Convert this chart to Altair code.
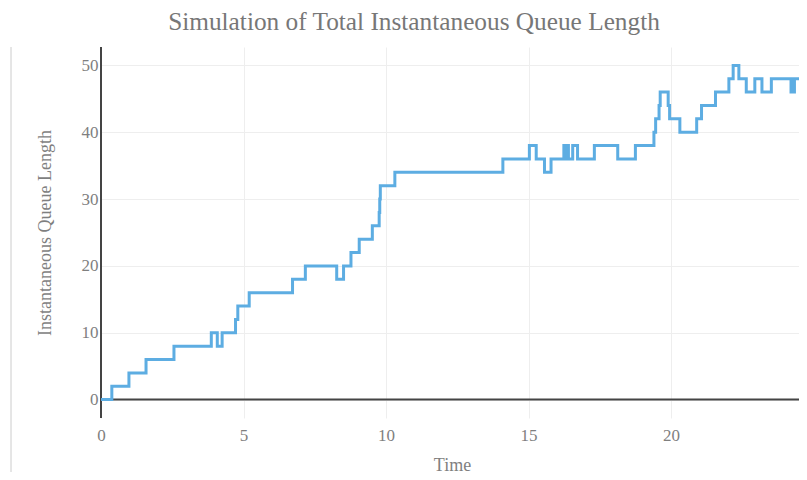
import altair as alt
import pandas as pd

# Step data (time of change, new queue length)
time = [0.0, 0.38, 0.98, 1.58, 2.56, 3.87, 4.08, 4.25, 4.72, 4.80, 5.20,
        6.72, 7.17, 8.27, 8.51, 8.77, 9.06, 9.52, 9.76, 9.78, 9.80, 10.31,
        14.10, 15.03, 15.27, 15.56, 15.79, 16.24, 16.30, 16.34, 16.40, 16.55,
        16.72, 17.31, 18.13, 18.75, 19.40, 19.46, 19.58, 19.62, 19.90, 19.95,
        20.31, 20.90, 21.07, 21.56, 22.03, 22.18, 22.38, 22.64, 22.94, 23.19,
        23.52, 24.21, 24.25, 24.29, 24.33, 24.56]
queue = [0, 2, 4, 6, 8, 10, 8, 10, 12, 14, 16,
         18, 20, 18, 20, 22, 24, 26, 28, 30, 32, 34,
         36, 38, 36, 34, 36, 38, 36, 38, 36, 38,
         36, 38, 36, 38, 40, 42, 44, 46, 44, 42,
         40, 42, 44, 46, 48, 50, 48, 46, 48, 46,
         48, 46, 48, 46, 48, 48]

x_ticks = [0, 5, 10, 15, 20]
y_ticks = [0, 10, 20, 30, 40, 50]

title_text = "Simulation of Total Instantaneous Queue Length"
x_title = "Time"
y_title = "Instantaneous Queue Length"

df = pd.DataFrame({"Time": time, "Queue": queue})
one = pd.DataFrame({"z": [0]})

FONT = "Liberation Serif"
GRAY = "#7f7f7f"
W, H = 698, 371

x_scale = alt.Scale(domain=[0, 24.49], nice=False, zero=False)
y_scale = alt.Scale(domain=[-2.75, 52.75], nice=False, zero=False)

line = alt.Chart(df).mark_line(
    interpolate="step-after", color="#5dade2", strokeWidth=3
).encode(
    x=alt.X("Time:Q", scale=x_scale,
            axis=alt.Axis(values=x_ticks, title=x_title, labelPadding=9,
                          labelFlush=False,
                          titleX=351, titleY=52, titleBaseline="alphabetic")),
    y=alt.Y("Queue:Q", scale=y_scale,
            axis=alt.Axis(values=y_ticks, title=y_title, labelPadding=3,
                          labelFlush=False,
                          titleX=-56, titleY=H / 2, titleBaseline="middle",
                          titleAlign="center")),
)

zero_v = alt.Chart(one).mark_rule(color="#444444", strokeWidth=2).encode(x=alt.datum(0))
zero_h = alt.Chart(one).mark_rule(color="#444444", strokeWidth=2).encode(y=alt.datum(0))
border = alt.Chart(one).mark_rule(color="#cccccc", strokeWidth=1).encode(
    x=alt.value(-90), y=alt.value(0), y2=alt.value(425)
)

chart = alt.layer(border, zero_v, zero_h, line).properties(
    width=W,
    height=H,
    title=alt.TitleParams(title_text, font=FONT, fontSize=25.3, fontWeight="normal",
                          color="#777777", anchor="middle", dx=-36, offset=11),
    autosize=alt.AutoSizeParams(type="none"),
    padding={"left": 93, "top": 39, "right": 0, "bottom": 54},
    background="white",
).configure_axis(
    domain=False,
    ticks=False,
    grid=True,
    gridColor="#eeeeee",
    gridWidth=1,
    labelFont=FONT,
    labelFontSize=17,
    labelColor=GRAY,
    titleFont=FONT,
    titleFontSize=18,
    titleFontWeight="normal",
    titleColor=GRAY,
).configure_view(strokeWidth=0)

chart.save("out.html", embed_options={"renderer": "svg", "actions": False})
